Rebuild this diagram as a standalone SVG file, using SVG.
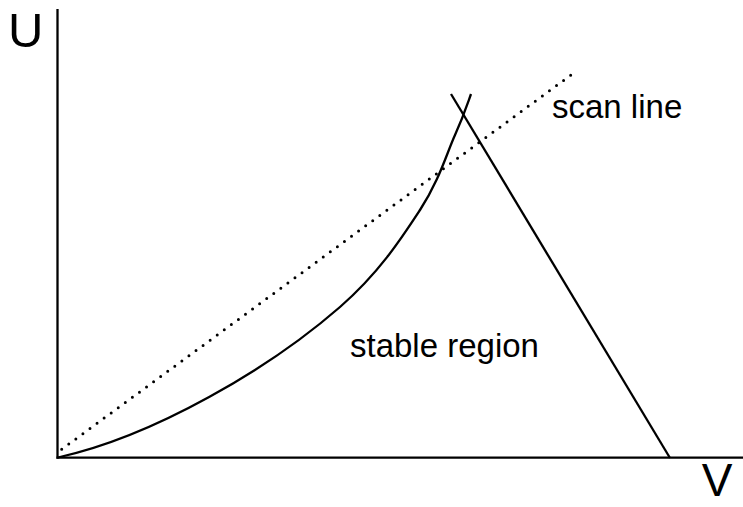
<svg xmlns="http://www.w3.org/2000/svg" width="743" height="507" viewBox="0 0 743 507">
  <style>
    .ln { fill: none; stroke: #000; stroke-width: 2.3; }
    .dot { fill: none; stroke: #000; stroke-width: 3; stroke-linecap: round; stroke-dasharray: 0 8.773; }
    .lbl { font-family: "Liberation Sans", Arial, Helvetica, sans-serif; fill: #000; }
  </style>
  <rect width="743" height="507" fill="#fff"/>
  <g id="axes">
    <line class="ln" x1="57.5" y1="9" x2="57.5" y2="458.7"/>
    <line class="ln" x1="56.5" y1="457.7" x2="743" y2="457.7"/>
    <text class="lbl" x="8" y="47" font-size="49">U</text>
    <text class="lbl" x="717" y="496" font-size="46" text-anchor="middle">V</text>
  </g>
  <g id="curves">
    <path id="stability-curve" class="ln" d="M58,457.5 C155,436 270,368 340,307 C379,273 401,239 420,210 C439,181 446.5,154 455,135 C463.5,116 466,108 471,94"/>
    <line id="boundary-line" class="ln" x1="451" y1="94" x2="670" y2="458"/>
    <line id="scan-line" class="dot" x1="61.7" y1="449.3" x2="577.7" y2="70"/>
  </g>
  <g id="labels">
    <text class="lbl" x="552" y="118" font-size="33">scan line</text>
    <text class="lbl" x="350" y="357" font-size="33">stable region</text>
  </g>
</svg>
